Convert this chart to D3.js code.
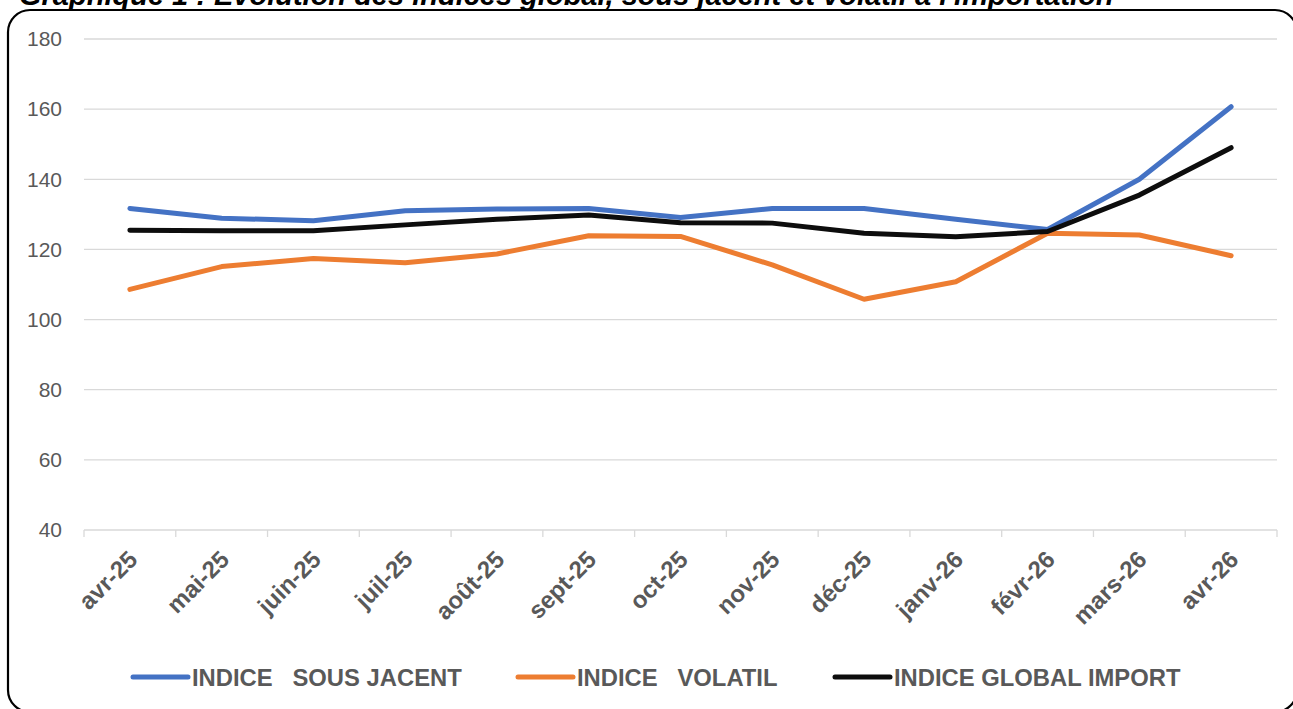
<!DOCTYPE html>
<html>
<head>
<meta charset="utf-8">
<script src="https://cdn.jsdelivr.net/npm/d3@7"></script>
<style>
body{margin:0;background:#fff;}
svg{display:block;font-family:"Liberation Sans",Arial,sans-serif;}
</style>
</head>
<body>
<svg id="chart" width="1293" height="709"></svg>
<script>
var months=["avr-25","mai-25","juin-25","juil-25","août-25","sept-25","oct-25","nov-25","déc-25","janv-26","févr-26","mars-26","avr-26"];
var sousJacent=[131.7,128.9,128.2,131.0,131.5,131.7,129.1,131.7,131.7,128.6,125.7,140.0,160.7];
var volatil=[108.6,115.1,117.4,116.2,118.7,123.9,123.7,115.6,105.8,110.8,124.6,124.1,118.2];
var globalImport=[125.5,125.3,125.3,127.0,128.6,129.8,127.6,127.5,124.6,123.6,125.1,135.5,149.0];
var yTicks=[40,60,80,100,120,140,160,180];
var seriesNames=["INDICE   SOUS JACENT","INDICE   VOLATIL","INDICE GLOBAL IMPORT"];
var seriesColors=["#4472c4","#ed7d31","#0d0d0d"];

var svg=d3.select("#chart");

// cadre arrondi
svg.append("rect")
.attr("x",8).attr("y",10)
.attr("width",1289).attr("height",702)
.attr("rx",22).attr("ry",22)
.attr("fill","none")
.attr("stroke","#000")
.attr("stroke-width",2.2)

// titre (coupé en haut)
svg.append("text")
.attr("x",19).attr("y",5)
.attr("font-size","29px")
.attr("font-weight","bold")
.attr("font-style","italic")
.attr("fill","#000")
.text("Graphique 1 : Evolution des indices global, sous jacent et volatil à l'importation")

var plotLeft=84,plotRight=1277,plotTop=39,plotBottom=530;

var xScale=d3.scaleBand()
.domain(months)
.range([plotLeft,plotRight])

var yScale=d3.scaleLinear()
.domain([40,180])
.range([plotBottom,plotTop])

// grille
svg.append("g")
.selectAll("line")
.data(yTicks.filter(d=>d!==40))
.enter()
.append("line")
.attr("x1",plotLeft).attr("x2",plotRight)
.attr("y1",d=>yScale(d)).attr("y2",d=>yScale(d))
.attr("stroke","#d9d9d9")
.attr("stroke-width",1.3)

// axe y
var yAxis=d3.axisLeft(yScale)
.tickValues(yTicks)
.tickSize(0)
.tickPadding(0)

var gy=svg.append("g")
.attr("transform","translate(62,0)")
.call(yAxis)
gy.select(".domain").remove()
gy.selectAll("text")
.attr("font-size","21px")
.attr("font-family","Liberation Sans, Arial, sans-serif")
.attr("fill","#595959")

// axe x
var tickPos=months.map(m=>xScale(m)).concat([plotRight])
svg.append("line")
.attr("x1",plotLeft).attr("x2",plotRight)
.attr("y1",plotBottom).attr("y2",plotBottom)
.attr("stroke","#d9d9d9")
.attr("stroke-width",1.3)
svg.append("g")
.selectAll("line")
.data(tickPos)
.enter()
.append("line")
.attr("x1",d=>d).attr("x2",d=>d)
.attr("y1",plotBottom).attr("y2",plotBottom+7)
.attr("stroke","#d9d9d9")
.attr("stroke-width",1.3)

svg.append("g")
.selectAll("text")
.data(months)
.enter()
.append("text")
.attr("transform",d=>"translate("+(xScale(d)+xScale.bandwidth()/2+3)+","+(plotBottom+25)+") rotate(-45)")
.attr("text-anchor","end")
.attr("dy","0.35em")
.attr("font-size","24px")
.attr("font-weight","bold")
.attr("fill","#595959")
.text(d=>d)

// courbes
var line=d3.line()
.x((d,i)=>xScale(months[i])+xScale.bandwidth()/2)
.y(d=>yScale(d))

var allSeries=[sousJacent,volatil,globalImport]
svg.append("g")
.selectAll("path")
.data(allSeries)
.enter()
.append("path")
.attr("d",d=>line(d))
.attr("fill","none")
.attr("stroke",(d,i)=>seriesColors[i])
.attr("stroke-width",5)
.attr("stroke-linecap","round")
.attr("stroke-linejoin","round")

// légende
var legendX=[133,518,835]
var leg=svg.append("g")
.selectAll("g")
.data(seriesNames)
.enter()
.append("g")
.attr("transform",(d,i)=>"translate("+legendX[i]+",677)")
leg.append("line")
.attr("x1",0).attr("x2",55)
.attr("y1",0).attr("y2",0)
.attr("stroke",(d,i)=>seriesColors[i])
.attr("stroke-width",5)
.attr("stroke-linecap","round")
leg.append("text")
.attr("x",59).attr("y",0)
.attr("dy","0.36em")
.attr("font-size","23.8px")
.attr("font-weight","bold")
.attr("fill","#595959")
.attr("xml:space","preserve")
.style("white-space","pre")
.text(d=>d)
</script>
</body>
</html>
